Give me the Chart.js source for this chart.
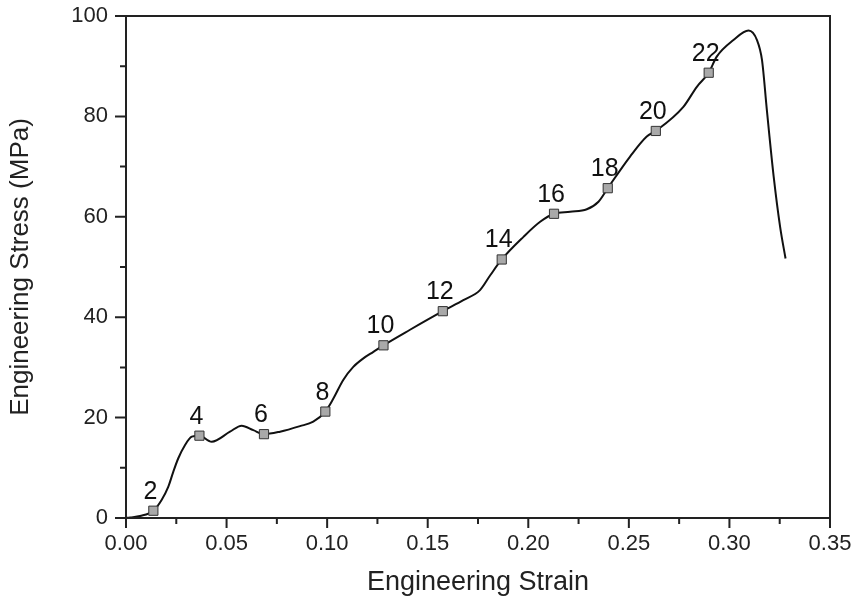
<!DOCTYPE html>
<html>
<head>
<meta charset="utf-8">
<script src="https://cdn.jsdelivr.net/npm/chart.js@4.4.1/dist/chart.umd.min.js"></script>
<style>
  html, body { margin: 0; padding: 0; background: #fff; }
  #wrap { width: 855px; height: 602px; position: relative; }
</style>
</head>
<body>
<div id="wrap"><canvas id="stressChart"></canvas></div>
<script>
// curve
const curveStrain = [0, 0.002, 0.007, 0.0136, 0.0177, 0.021, 0.0235, 0.026, 0.0293, 0.0327,
    0.0365, 0.0426, 0.0517, 0.0575, 0.0633, 0.0686, 0.0766, 0.0865, 0.0931, 0.0991,
    0.1031, 0.108, 0.113, 0.118, 0.123, 0.128, 0.1412, 0.1575, 0.1677, 0.176,
    0.181, 0.1868, 0.1976, 0.2059, 0.2128, 0.2208, 0.2291, 0.2349, 0.2395, 0.2506,
    0.2589, 0.2634, 0.2771, 0.2838, 0.2897, 0.2937, 0.302, 0.3095, 0.3137, 0.3162,
    0.3186, 0.322, 0.3252, 0.3279];
const curveStress = [0, 0.1, 0.4, 1.45, 3.6, 6.2, 9.2, 11.9, 14.5, 16.2,
    16.4, 15.2, 17.2, 18.4, 17.5, 16.7, 17.2, 18.3, 19.2, 21.2,
    23.8, 27.5, 30.1, 31.8, 33.1, 34.4, 37.5, 41.2, 43.4, 45.4,
    48.3, 51.5, 56.0, 59.0, 60.6, 61.0, 61.5, 63.0, 65.7, 72.0,
    76.0, 77.1, 81.9, 85.9, 88.7, 91.9, 95.2, 97.1, 95.2, 91.2,
    81.3, 68.0, 58.0, 51.7];

// numbered square markers
const markerNames = ["2", "4", "6", "8", "10", "12", "14", "16", "18", "20", "22"];
const markerStrain = [0.0136, 0.0365, 0.0686, 0.0991, 0.128, 0.1575, 0.1868, 0.2128, 0.2395, 0.2634, 0.2897];
const markerStress = [1.45, 16.4, 16.7, 21.2, 34.4, 41.2, 51.5, 60.6, 65.7, 77.1, 88.7];

const xTicks = [0, 0.05, 0.10, 0.15, 0.20, 0.25, 0.30, 0.35];
const yTicks = [0, 20, 40, 60, 80, 100];

const FONT = "'Liberation Sans', Arial, sans-serif";
const AXIS_COLOR = "#222";

const curvePoints = curveStrain.map((s, i) => ({ x: s, y: curveStress[i] }));
const markerPoints = markerStrain.map((s, i) => ({ x: s, y: markerStress[i] }));

// frame + major/minor ticks + marker numbers
const framePlugin = {
    id: "frame",
    afterDraw(chart) {
        const { ctx, chartArea } = chart;
        const xs = chart.scales.x;
        const ys = chart.scales.y;
        ctx.save();
        ctx.strokeStyle = AXIS_COLOR;
        ctx.lineWidth = 2;
        ctx.strokeRect(chartArea.left, chartArea.top, chartArea.right - chartArea.left, chartArea.bottom - chartArea.top);

        ctx.beginPath();
        xTicks.forEach((v, i) => {
            const px = xs.getPixelForValue(v);
            ctx.moveTo(px, chartArea.bottom);
            ctx.lineTo(px, chartArea.bottom + 10);
            if (i < xTicks.length - 1) {
                const mx = xs.getPixelForValue((v + xTicks[i + 1]) / 2);
                ctx.moveTo(mx, chartArea.bottom);
                ctx.lineTo(mx, chartArea.bottom + 6);
            }
        });
        yTicks.forEach((v, i) => {
            const py = ys.getPixelForValue(v);
            ctx.moveTo(chartArea.left, py);
            ctx.lineTo(chartArea.left - 11, py);
            if (i < yTicks.length - 1) {
                const my = ys.getPixelForValue((v + yTicks[i + 1]) / 2);
                ctx.moveTo(chartArea.left, my);
                ctx.lineTo(chartArea.left - 6, my);
            }
        });
        ctx.stroke();

        ctx.fillStyle = "#111";
        ctx.font = "25px " + FONT;
        ctx.textAlign = "center";
        ctx.textBaseline = "alphabetic";
        markerPoints.forEach((p, i) => {
            const px = xs.getPixelForValue(p.x);
            const py = ys.getPixelForValue(p.y);
            ctx.fillText(markerNames[i], px - 3, py - 12);
        });
        ctx.restore();
    },
};

const chart = new Chart(document.getElementById("stressChart"), {
    type: "scatter",
    data: {
        datasets: [
            {
                data: curvePoints,
                showLine: true,
                borderColor: "#111",
                borderWidth: 2,
                pointRadius: 0,
                cubicInterpolationMode: "monotone",
                order: 2,
            },
            {
                data: markerPoints,
                showLine: false,
                pointStyle: "rect",
                pointRadius: 6.5,
                backgroundColor: "#a9a9a9",
                borderColor: "#333",
                borderWidth: 1,
                order: 1,
            },
        ],
    },
    options: {
        responsive: true,
        maintainAspectRatio: false,
        animation: false,
        layout: { padding: { top: 16, right: 25, left: 0, bottom: 0 } },
        plugins: {
            legend: { display: false },
            tooltip: { enabled: false },
        },
        scales: {
            x: {
                type: "linear",
                min: 0,
                max: 0.35,
                afterBuildTicks: (scale) => {
                    scale.ticks = xTicks.map((v) => ({ value: v }));
                },
                afterFit: (scale) => {
                    scale.height = 84;
                    scale.paddingLeft = 0;
                    scale.paddingRight = 0;
                },
                grid: { display: false, drawTicks: false },
                border: { display: false },
                ticks: {
                    padding: 13,
                    color: "#222",
                    font: { family: FONT, size: 22 },
                    maxRotation: 0,
                    callback: (v) => v.toFixed(2),
                },
                title: {
                    display: true,
                    text: "Engineering Strain",
                    color: "#222",
                    font: { family: FONT, size: 27 },
                    padding: { top: 4, bottom: 3 },
                },
            },
            y: {
                type: "linear",
                min: 0,
                max: 100,
                afterBuildTicks: (scale) => {
                    scale.ticks = yTicks.map((v) => ({ value: v }));
                },
                afterFit: (scale) => {
                    scale.width = 126;
                    scale.paddingTop = 0;
                    scale.paddingBottom = 0;
                },
                grid: { display: false, drawTicks: false },
                border: { display: false },
                ticks: {
                    padding: 18,
                    color: "#222",
                    font: { family: FONT, size: 22 },
                },
                title: {
                    display: true,
                    text: "Engineering Stress (MPa)",
                    color: "#222",
                    font: { family: FONT, size: 26 },
                    padding: { top: 5, bottom: 4 },
                },
            },
        },
    },
    plugins: [framePlugin],
});
</script>
</body>
</html>
